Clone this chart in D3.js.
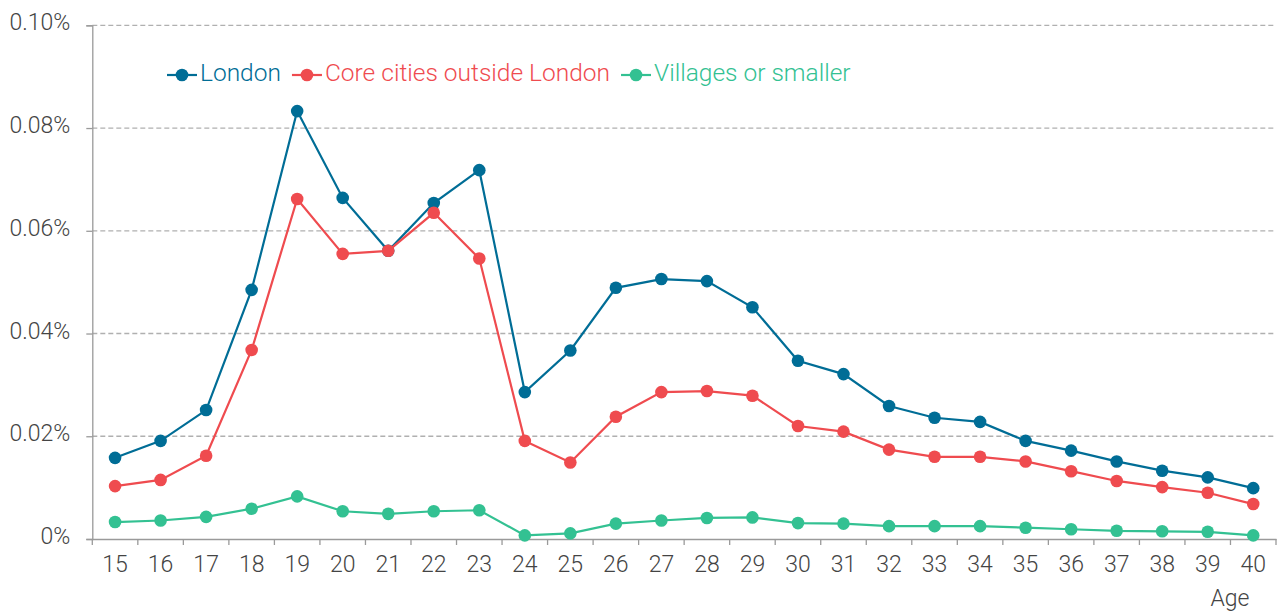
<!DOCTYPE html>
<html>
<head>
<meta charset="utf-8">
<script src="https://cdn.jsdelivr.net/npm/d3@7"></script>
<style>
  html, body { margin: 0; padding: 0; background: #fff; }
  svg { display: block; }
  text { font-family: Roboto, "Liberation Sans", sans-serif; font-weight: 300; }
</style>
</head>
<body>
<svg id="chart" width="1281" height="612"></svg>
<script>
// ---- data ----
const ages = [15,16,17,18,19,20,21,22,23,24,25,26,27,28,29,30,31,32,33,34,35,36,37,38,39,40];
const london = [0.0158,0.0191,0.0251,0.0485,0.0833,0.0664,0.0561,0.0654,0.0718,0.0286,0.0367,0.0489,0.0506,0.0502,0.0451,0.0347,0.0321,0.0259,0.0236,0.0228,0.0191,0.0172,0.0151,0.0133,0.0120,0.0099];
const coreCities = [0.0103,0.0115,0.0162,0.0368,0.0662,0.0555,0.0561,0.0635,0.0546,0.0191,0.0149,0.0238,0.0286,0.0288,0.0279,0.0220,0.0209,0.0174,0.0160,0.0160,0.0151,0.0132,0.0113,0.0101,0.0090,0.0068];
const villages = [0.0033,0.0036,0.0043,0.0059,0.0083,0.0054,0.0049,0.0054,0.0056,0.0007,0.0011,0.0030,0.0036,0.0041,0.0042,0.0031,0.0030,0.0025,0.0025,0.0025,0.0022,0.0019,0.0016,0.0015,0.0014,0.0007];
const seriesNames = ["London", "Core cities outside London", "Villages or smaller"];
const yTicks = [0, 0.02, 0.04, 0.06, 0.08, 0.10];
const xTitle = "Age";

const colors = ["#006d96", "#ef4b4f", "#33c192"];
const series = [london, coreCities, villages].map((vals, i) => ({
  name: seriesNames[i], color: colors[i],
  values: vals.map((v, j) => ({ age: ages[j], v }))
}));

// ---- layout ----
const svg = d3.select("#chart");
const mLeft = 92.3, mRight = 1276, mTop = 25.3, mBottom = 539;

const x = d3.scaleBand().domain(ages).range([mLeft, mRight]).padding(0);
const y = d3.scaleLinear().domain([0, 0.10]).range([mBottom, mTop]);
const cx = a => x(a) + x.bandwidth() / 2;

// gridlines
svg.append("g").selectAll("line").data(yTicks.filter(t => t > 0)).join("line")
  .attr("x1", mLeft).attr("x2", 1274)
  .attr("y1", d => y(d)).attr("y2", d => y(d))
  .attr("stroke", "#b0b0b0").attr("stroke-width", 1.3).attr("stroke-dasharray", "5,3");

// y axis
const yAxis = d3.axisLeft(y).tickValues(yTicks).tickSize(6).tickPadding(16)
  .tickFormat(d => d === 0 ? "0%" : d3.format(".2f")(d) + "%");
const gy = svg.append("g").attr("transform", `translate(${mLeft},0)`).call(yAxis);
gy.select(".domain").attr("stroke", "#9a9a9a").attr("stroke-width", 1.3);
gy.selectAll(".tick line").attr("stroke", "#9a9a9a").attr("stroke-width", 1.3);
gy.selectAll(".tick text").attr("font-size", 23).attr("fill", "#444")
  .attr("font-family", "Roboto, sans-serif").attr("font-weight", 300).attr("dy", "0.2em");

// x axis
const xAxis = d3.axisBottom(x).tickSize(0).tickPadding(17);
const gx = svg.append("g").attr("transform", `translate(0,${mBottom})`).call(xAxis);
gx.select(".domain").attr("stroke", "#9a9a9a").attr("stroke-width", 1.3);
gx.selectAll(".tick text").attr("font-size", 23).attr("fill", "#444")
  .attr("font-family", "Roboto, sans-serif").attr("font-weight", 300);
// boundary tick marks
const bounds = ages.map(a => x(a)).concat([x(ages[ages.length - 1]) + x.bandwidth()]);
gx.append("g").selectAll("line").data(bounds).join("line")
  .attr("x1", d => d).attr("x2", d => d).attr("y1", 0).attr("y2", 6)
  .attr("stroke", "#9a9a9a").attr("stroke-width", 1.3);

svg.append("text").attr("x", 1230).attr("y", 606).attr("text-anchor", "middle")
  .attr("font-size", 23).attr("fill", "#444").text(xTitle);

// lines + markers
const line = d3.line().x(d => cx(d.age)).y(d => y(d.v));
series.forEach(s => {
  const g = svg.append("g");
  g.append("path").datum(s.values).attr("d", line)
    .attr("fill", "none").attr("stroke", s.color).attr("stroke-width", 2.2);
  g.selectAll("circle").data(s.values).join("circle")
    .attr("cx", d => cx(d.age)).attr("cy", d => y(d.v)).attr("r", 6.3)
    .attr("fill", s.color);
});

// legend
const legend = svg.append("g");
let lx = 167;
const ly = 75;
series.forEach(s => {
  const g = legend.append("g");
  g.append("line").attr("x1", lx).attr("x2", lx + 30).attr("y1", ly).attr("y2", ly)
    .attr("stroke", s.color).attr("stroke-width", 2.2);
  g.append("circle").attr("cx", lx + 15).attr("cy", ly).attr("r", 6.3).attr("fill", s.color);
  const t = g.append("text").attr("x", lx + 33).attr("y", ly + 6)
    .attr("font-size", 24.5).attr("fill", s.color).text(s.name);
  lx += 33 + t.node().getComputedTextLength() + 11;
});
</script>
</body>
</html>
